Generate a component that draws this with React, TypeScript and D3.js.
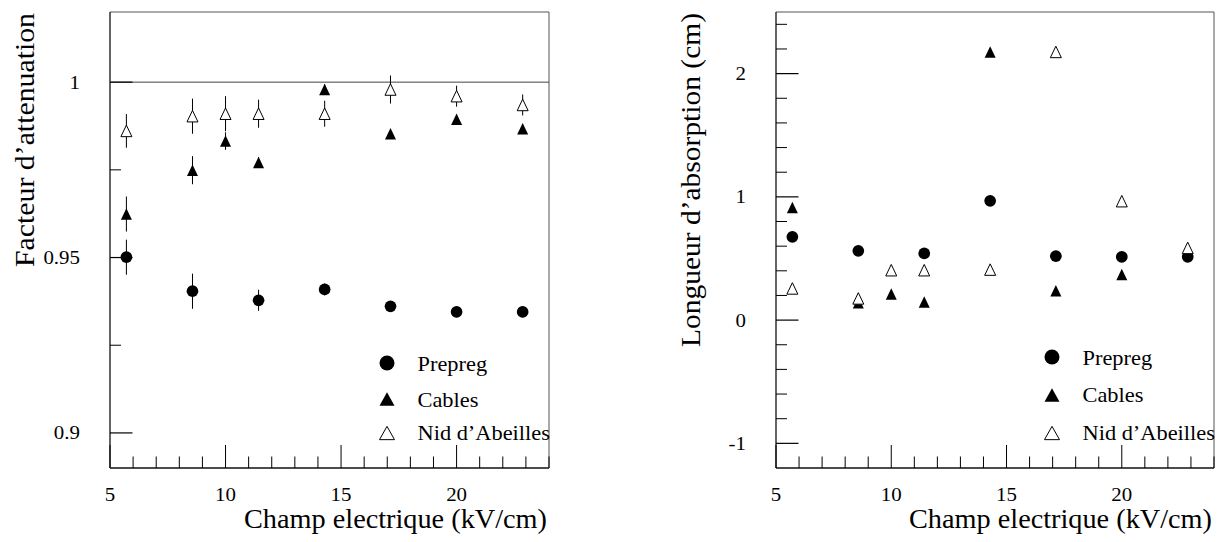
import React from 'react';
import * as d3 from 'd3';

// ---------- data ----------
const fieldX = [5.71, 8.57, 10, 11.43, 14.29, 17.14, 20, 22.86];

// Left panel: Facteur d'attenuation
const attPrepreg = [0.9501, 0.9404, null, 0.9378, 0.9409, 0.9361, 0.9345, 0.9345];
const attPrepregErr = [0.005, 0.005, null, 0.003, 0.0017, 0.0015, 0.0015, 0.0015];
const attCables = [0.9624, 0.9749, 0.9832, 0.9771, 0.9979, 0.9853, 0.9894, 0.9867];
const attCablesErr = [0.005, 0.004, 0.0025, 0.0015, 0.0015, 0.0012, 0.0012, 0.0012];
const attNid = [0.9861, 0.9903, 0.991, 0.991, 0.991, 0.9979, 0.996, 0.9935];
const attNidErr = [0.0048, 0.005, 0.005, 0.004, 0.0037, 0.004, 0.003, 0.003];

// Right panel: Longueur d'absorption (cm)
const absPrepreg = [0.676, 0.562, null, 0.541, 0.968, 0.519, 0.513, 0.513];
const absCables = [0.914, 0.14, 0.211, 0.146, 2.176, 0.238, 0.371, null];
const absNid = [0.257, 0.176, 0.405, 0.405, 0.41, 2.176, 0.965, 0.586];

const seriesNames = ['Prepreg', 'Cables', "Nid d\u2019Abeilles"];

const xDomain = [5, 24];
const xMajorTicks = [5, 10, 15, 20];
const xMajorLabels = ['5', '10', '15', '20'];
const xMinorTicks = [6, 7, 8, 9, 11, 12, 13, 14, 16, 17, 18, 19, 21, 22, 23, 24];

const leftYDomain = [0.89, 1.02];
const leftYMajor = [0.9, 0.95, 1];
const leftYLabels = ['0.9', '0.95', '1'];
const leftYMinor = [0.925, 0.975];

const rightYDomain = [-1.2, 2.5];
const rightYMajor = [-1, 0, 1, 2];
const rightYLabels = ['-1', '0', '1', '2'];
const rightYMinor = [-0.8, -0.6, -0.4, -0.2, 0.2, 0.4, 0.6, 0.8, 1.2, 1.4, 1.6, 1.8, 2.2, 2.4];

const xTitle = 'Champ electrique (kV/cm)';
const leftYTitle = "Facteur d\u2019attenuation";
const rightYTitle = "Longueur d\u2019absorption (cm)";

// ---------- helpers ----------
const FONT = "'Liberation Serif', 'Times New Roman', Times, serif";

type MarkerKind = 'circle' | 'tri' | 'otri';

function Marker({ kind, x, y, w, h }: { kind: MarkerKind; x: number; y: number; w: number; h: number }) {
  if (kind === 'circle') return <circle cx={x} cy={y} r={w / 2} fill="#000" />;
  const pts = `${x - w / 2},${y + h / 2} ${x + w / 2},${y + h / 2} ${x},${y - h / 2}`;
  if (kind === 'tri') return <polygon points={pts} fill="#000" />;
  return <polygon points={pts} fill="#fff" stroke="#000" strokeWidth={1} strokeLinejoin="miter" />;
}

function SText({ x, y, anchor = 'start', size, sx = 1.1, children }: any) {
  return (
    <text
      transform={`translate(${x},${y}) scale(${sx},1)`}
      textAnchor={anchor}
      fontSize={size}
      fontFamily={FONT}
      fill="#000"
    >
      {children}
    </text>
  );
}

type Series = { kind: MarkerKind; values: (number | null)[]; errs?: (number | null)[] };

function Panel({
  box, yDomain, yMajor, yLabels, yMinor, series, yTitle, yTitleX, yTitleLen, hLineAt, legendDx, legendYs, legendTextYs,
}: any) {
  const x = d3.scaleLinear().domain(xDomain).range([box.x0, box.x1]);
  const y = d3.scaleLinear().domain(yDomain).range([box.y1, box.y0]);
  const kinds: MarkerKind[] = ['circle', 'tri', 'otri'];
  const legendX = box.x0 + legendDx;
  return (
    <g>
      {/* frame */}
      <line x1={box.x0} x2={box.x1} y1={box.y0} y2={box.y0} stroke="#555" strokeWidth={1} />
      <line x1={box.x1} x2={box.x1} y1={box.y0} y2={box.y1} stroke="#555" strokeWidth={1} />
      <line x1={box.x0} x2={box.x0} y1={box.y0} y2={box.y1} stroke="#111" strokeWidth={1.3} />
      <line x1={box.x0} x2={box.x1} y1={box.y1} y2={box.y1} stroke="#111" strokeWidth={1.3} />
      {hLineAt != null && (
        <line x1={box.x0} x2={box.x1} y1={y(hLineAt)} y2={y(hLineAt)} stroke="#444" strokeWidth={1} />
      )}
      {/* x ticks */}
      {xMajorTicks.map((t, i) => (
        <g key={'xm' + i}>
          <line x1={x(t)} x2={x(t)} y1={box.y1} y2={box.y1 - 23} stroke="#000" strokeWidth={1} />
          <SText x={x(t)} y={box.y1 + 33} anchor="middle" size={19}>{xMajorLabels[i]}</SText>
        </g>
      ))}
      {xMinorTicks.map((t, i) => (
        <line key={'xn' + i} x1={x(t)} x2={x(t)} y1={box.y1} y2={box.y1 - 11.5} stroke="#000" strokeWidth={1} />
      ))}
      {/* y ticks */}
      {yMajor.map((t: number, i: number) => (
        <g key={'ym' + i}>
          <line x1={box.x0} x2={box.x0 + 22.5} y1={y(t)} y2={y(t)} stroke="#000" strokeWidth={1.2} />
          <SText x={box.x0 - 30} y={y(t) + 6.5} anchor="end" size={19}>{yLabels[i]}</SText>
        </g>
      ))}
      {yMinor.map((t: number, i: number) => (
        <line key={'yn' + i} x1={box.x0} x2={box.x0 + 11} y1={y(t)} y2={y(t)} stroke="#000" strokeWidth={1} />
      ))}
      {/* error bars */}
      {series.map((s: Series, si: number) =>
        s.errs
          ? s.values.map((v, i) => {
              const e = s.errs![i];
              if (v == null || e == null) return null;
              return (
                <line key={`e${si}-${i}`} x1={x(fieldX[i])} x2={x(fieldX[i])} y1={y(v - e)} y2={y(v + e)} stroke="#000" strokeWidth={1} />
              );
            })
          : null
      )}
      {/* markers */}
      {series.map((s: Series, si: number) =>
        s.values.map((v, i) =>
          v == null ? null : (
            <Marker key={`m${si}-${i}`} kind={s.kind} x={x(fieldX[i])} y={y(v)} w={s.kind === 'circle' ? 11.7 : 11} h={11.5} />
          )
        )
      )}
      {/* legend */}
      {kinds.map((k, i) => (
        <g key={'lg' + i}>
          <Marker kind={k} x={legendX} y={legendYs[i]} w={15} h={13.3} />
          <SText x={legendX + 30.5} y={legendTextYs[i]} size={20} sx={1.12}>{seriesNames[i]}</SText>
        </g>
      ))}
      {/* titles */}
      <text
        x={box.x1 - 2}
        y={box.y1 + 60}
        textAnchor="end"
        fontSize={27}
        fontFamily={FONT}
        textLength={303}
        lengthAdjust="spacingAndGlyphs"
      >
        {xTitle}
      </text>
      <text
        transform={`translate(${yTitleX},${(box.y0 + yTitleLen.end) / 2}) rotate(-90)`}
        textAnchor="middle"
        fontSize={27}
        fontFamily={FONT}
        textLength={yTitleLen.len}
        lengthAdjust="spacingAndGlyphs"
      >
        {yTitle}
      </text>
    </g>
  );
}

export default function App() {
  const leftSeries: Series[] = [
    { kind: 'circle', values: attPrepreg, errs: attPrepregErr },
    { kind: 'tri', values: attCables, errs: attCablesErr },
    { kind: 'otri', values: attNid, errs: attNidErr },
  ];
  const rightSeries: Series[] = [
    { kind: 'circle', values: absPrepreg },
    { kind: 'tri', values: absCables },
    { kind: 'otri', values: absNid },
  ];
  return (
    <svg
      width={1224}
      height={542}
      style={{ position: 'absolute', left: 0, top: 0, background: '#fff' }}
    >
      <rect x={0} y={0} width={1224} height={542} fill="#fff" />
      <Panel
        box={{ x0: 110, x1: 549, y0: 12, y1: 468 }}
        yDomain={leftYDomain}
        yMajor={leftYMajor}
        yLabels={leftYLabels}
        yMinor={leftYMinor}
        series={leftSeries}
        yTitle={leftYTitle}
        yTitleX={33.5}
        yTitleLen={{ end: 268, len: 254 }}
        hLineAt={1}
        legendDx={277}
        legendYs={[363, 399, 433]}
        legendTextYs={[370.5, 406.5, 439.5]}
      />
      <Panel
        box={{ x0: 776, x1: 1214, y0: 12, y1: 468 }}
        yDomain={rightYDomain}
        yMajor={rightYMajor}
        yLabels={rightYLabels}
        yMinor={rightYMinor}
        series={rightSeries}
        yTitle={rightYTitle}
        yTitleX={700}
        yTitleLen={{ end: 348, len: 334 }}
        hLineAt={null}
        legendDx={276}
        legendYs={[357, 395, 433]}
        legendTextYs={[365, 401.5, 440]}
      />
    </svg>
  );
}
